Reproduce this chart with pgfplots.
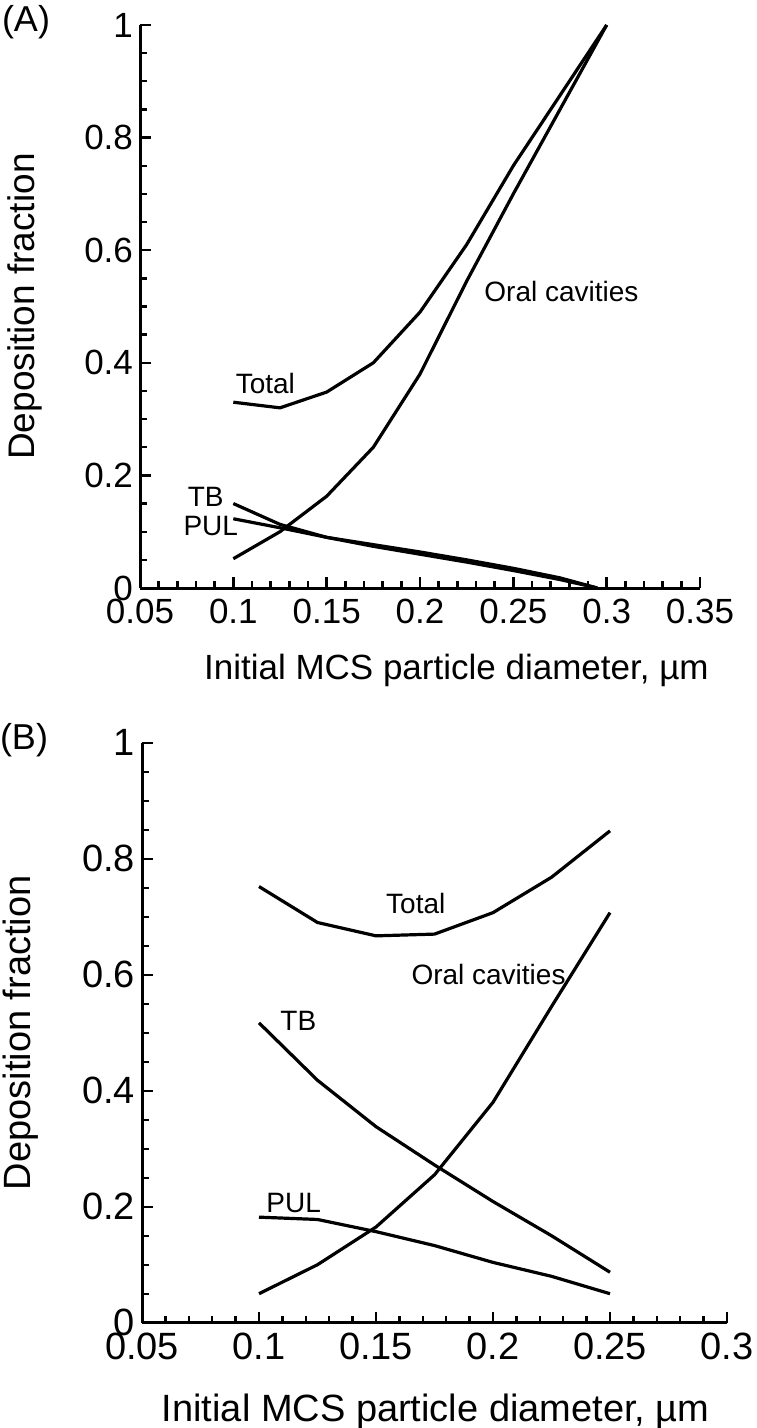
\documentclass[border=0pt]{standalone}
\usepackage{pgfplots}
\pgfplotsset{compat=1.18}
\usepackage{fontspec}
\setmainfont{Liberation Sans}

% 1 px of the reference = 0.5pt
\pgfplotsset{
  depo/.style={
    scale only axis,
    axis lines=left,
    axis line style={-, line width=1.5pt},
    tick align=inside,
    major tick length=5.5pt, minor tick length=3.5pt,
    every tick/.append style={black, line width=1.2pt},
    minor x tick num=4, minor y tick num=3,
    ymin=0, ymax=1, xmin=0.05,
    ytick={0,0.2,0.4,0.6,0.8,1},
    /pgf/number format/assume math mode=true,
    /pgf/number format/fixed,
    /pgf/number format/precision=2,
    clip=false,
    ylabel={Deposition fraction},
    xlabel={Initial MCS particle diameter, µm},
  },
  curve/.style={black, line width=1.6pt, line join=round, mark=none},
}
\tikzset{curvelab/.style={font=\fontsize{14}{16}\selectfont, inner sep=0pt}}

\begin{document}
\begin{tikzpicture}
\path[use as bounding box] (0,0) rectangle (378pt,-714pt);

% ---------- (A) ----------
\node[anchor=center, font=\fontsize{18}{20}\selectfont, inner sep=0pt] at (13pt,-11pt) {(A)};
\begin{axis}[depo,
  at={(70pt,-294pt)}, anchor=south west,
  width=280pt, height=281.5pt,
  xmax=0.35,
  xtick={0.05,0.1,0.15,0.2,0.25,0.3,0.35},
  ticklabel style={font=\fontsize{17.5}{20}\selectfont},
  xticklabel style={yshift=-2pt},
  xlabel style={font=\fontsize{17.5}{20}\selectfont, at={(axis description cs:0.565,-0.146)}, anchor=center},
  ylabel style={font=\fontsize{18.5}{20}\selectfont, at={(axis description cs:-0.205,0.5)}, anchor=center},
]
  % Total
  \addplot[curve] coordinates {(0.1,0.33) (0.125,0.32) (0.15,0.348) (0.175,0.40) (0.2,0.49) (0.225,0.61) (0.25,0.75) (0.275,0.875) (0.3,1.0)};
  % Oral cavities
  \addplot[curve] coordinates {(0.1,0.052) (0.125,0.10) (0.15,0.163) (0.175,0.25) (0.2,0.38) (0.225,0.545) (0.25,0.70) (0.275,0.85) (0.3,1.0)};
  % TB
  \addplot[curve] coordinates {(0.1,0.15) (0.125,0.113) (0.15,0.09) (0.175,0.074) (0.2,0.06) (0.225,0.046) (0.25,0.031) (0.275,0.015) (0.295,0.0)};
  % PUL
  \addplot[curve] coordinates {(0.1,0.123) (0.125,0.107) (0.15,0.09) (0.175,0.077) (0.2,0.064) (0.225,0.05) (0.25,0.035) (0.275,0.018) (0.295,0.0)};
  \node[curvelab, anchor=west] at (axis cs:0.1011,0.364) {Total};
  \node[curvelab, anchor=west] at (axis cs:0.2343,0.526) {Oral cavities};
  \node[curvelab, anchor=east] at (axis cs:0.095,0.161) {TB};
  \node[curvelab, anchor=east] at (axis cs:0.1027,0.111) {PUL};
\end{axis}

% ---------- (B) ----------
\node[anchor=center, font=\fontsize{18}{20}\selectfont, inner sep=0pt] at (12pt,-370pt) {(B)};
\begin{axis}[depo,
  at={(71pt,-661.35pt)}, anchor=south west,
  width=292.5pt, height=290pt,
  xmax=0.3,
  xtick={0.05,0.1,0.15,0.2,0.25,0.3},
  ticklabel style={font=\fontsize{19}{22}\selectfont},
  xticklabel style={yshift=-1.5pt},
  label style={font=\fontsize{19}{22}\selectfont},
  xlabel style={at={(axis description cs:0.502,-0.153)}, anchor=center},
  ylabel style={at={(axis description cs:-0.207,0.5)}, anchor=center},
]
  % Total
  \addplot[curve] coordinates {(0.1,0.752) (0.125,0.69) (0.15,0.667) (0.175,0.67) (0.2,0.707) (0.225,0.768) (0.25,0.848)};
  % Oral cavities
  \addplot[curve] coordinates {(0.1,0.05) (0.125,0.10) (0.15,0.165) (0.175,0.255) (0.2,0.38) (0.225,0.545) (0.25,0.707)};
  % TB
  \addplot[curve] coordinates {(0.1,0.517) (0.125,0.418) (0.15,0.338) (0.175,0.272) (0.2,0.209) (0.225,0.15) (0.25,0.087)};
  % PUL
  \addplot[curve] coordinates {(0.1,0.182) (0.125,0.178) (0.15,0.157) (0.175,0.133) (0.2,0.104) (0.225,0.08) (0.25,0.05)};
  \node[curvelab, anchor=center] at (axis cs:0.167,0.722) {Total};
  \node[curvelab, anchor=west] at (axis cs:0.165,0.60) {Oral cavities};
  \node[curvelab, anchor=west] at (axis cs:0.109,0.52) {TB};
  \node[curvelab, anchor=west] at (axis cs:0.103,0.207) {PUL};
\end{axis}
\end{tikzpicture}
\end{document}
